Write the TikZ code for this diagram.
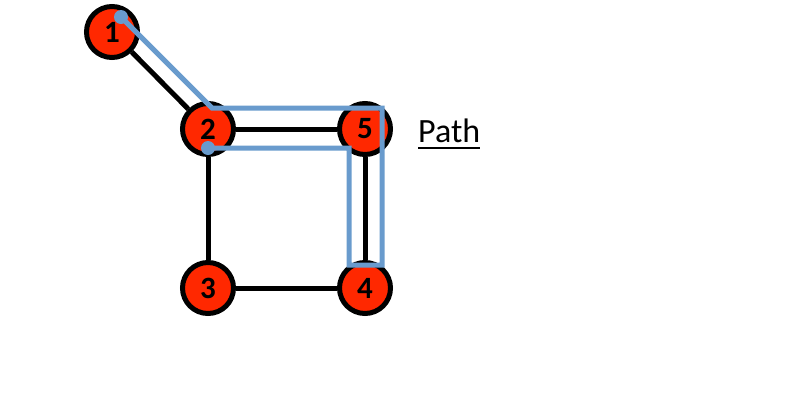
\documentclass[tikz,border=0pt]{standalone}
\usepackage{fontspec}
\setmainfont{Carlito}
\usetikzlibrary{positioning}
\definecolor{vred}{RGB}{255,40,0}
\definecolor{pblue}{RGB}{105,155,205}
\tikzset{
  vertex/.style={shape=circle,draw=black,fill=vred,line width=5pt,minimum size=51pt,inner sep=0pt,font=\bfseries\fontsize{31}{31}\selectfont},
  pathline/.style={draw=pblue,line width=5pt,line join=miter}
}
\begin{document}
\begin{tikzpicture}[x=1pt,y=-1pt]
        \useasboundingbox (0,0) rectangle (800,413);

        \node[vertex] (x1) at (112,32) {1};
        \node[vertex] (x2) at (208,129) {2};
        \node[vertex] (x5) at (365,129) {5};
        \node[vertex] (x3) at (208,288) {3};
        \node[vertex] (x4) at (365,288) {4};

        \path[-,line width=5pt] (x1) edge (x2);
        \path[-,line width=5pt] (x2) edge (x5);
        \path[-,line width=5pt] (x2) edge (x3);
        \path[-,line width=5pt] (x3) edge (x4);
        \path[-,line width=5pt] (x5) edge (x4);

        % path from 1 to 2
        \coordinate (s) at (121,17);
        \coordinate (t) at (208,148);
        \draw[pathline] (s) -- (212,108) -- (382,108) -- (382,265) -- (349,265) -- (349,148) -- (t);
        \fill[pblue] (s) circle (7);
        \fill[pblue] (t) circle (7);

        \node[inner sep=0pt,anchor=base west,font=\fontsize{34}{34}\selectfont] (lbl) at (418,142) {Path};
        \draw[line width=2pt] ([yshift=-6pt]lbl.base west) -- ([yshift=-6pt]lbl.base east);
    \end{tikzpicture}
\end{document}
